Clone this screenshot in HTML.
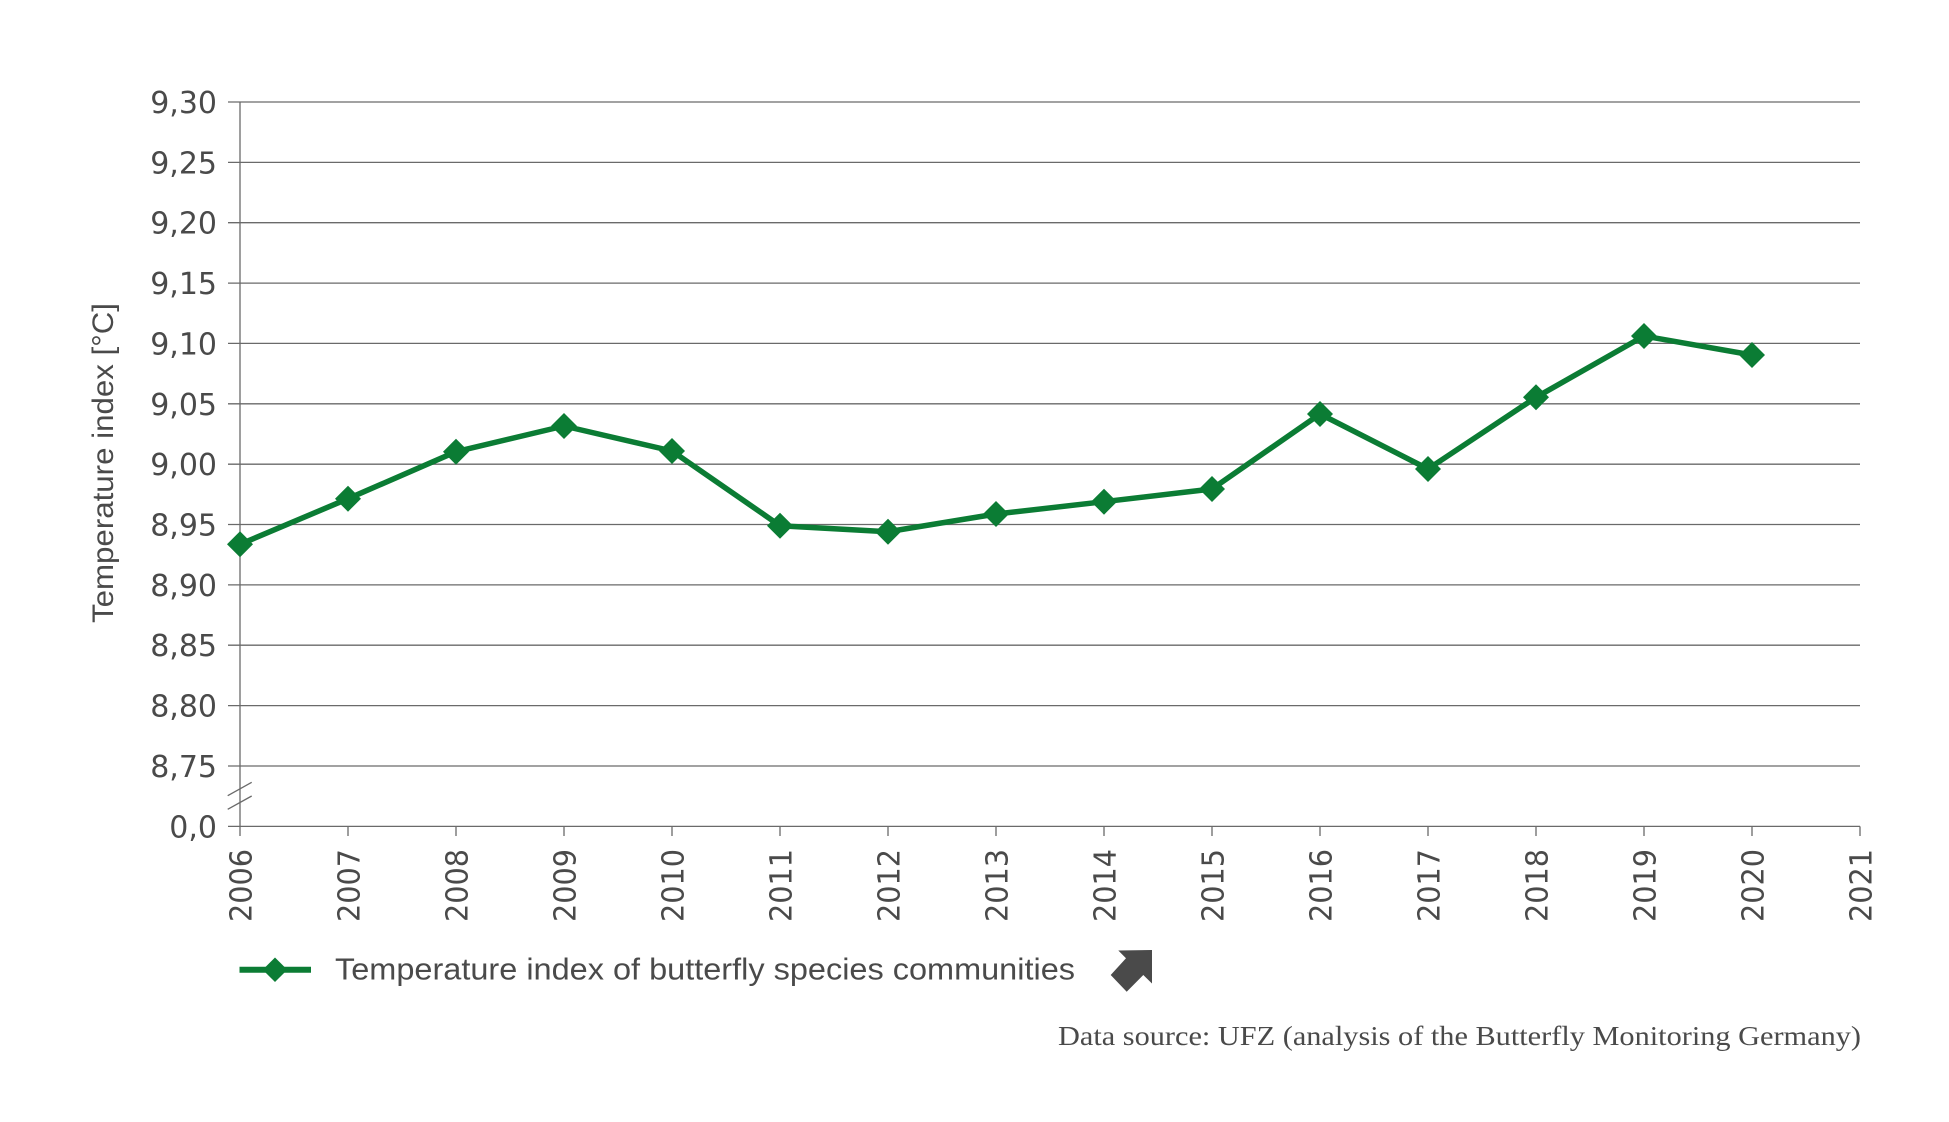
<!DOCTYPE html>
<html>
<head>
<meta charset="utf-8">
<style>
html,body{margin:0;padding:0;background:#fff;}
svg{display:block;}
</style>
</head>
<body>
<svg width="1949" height="1122" viewBox="0 0 1949 1122" xmlns="http://www.w3.org/2000/svg">
<rect width="1949" height="1122" fill="#fff"/>
<g stroke="#6a6a6a" stroke-width="1.3" fill="none">
  <line x1="228" y1="102" x2="1860" y2="102"/>
  <line x1="228" y1="162.4" x2="1860" y2="162.4"/>
  <line x1="228" y1="222.7" x2="1860" y2="222.7"/>
  <line x1="228" y1="283.1" x2="1860" y2="283.1"/>
  <line x1="228" y1="343.4" x2="1860" y2="343.4"/>
  <line x1="228" y1="403.8" x2="1860" y2="403.8"/>
  <line x1="228" y1="464.2" x2="1860" y2="464.2"/>
  <line x1="228" y1="524.5" x2="1860" y2="524.5"/>
  <line x1="228" y1="584.9" x2="1860" y2="584.9"/>
  <line x1="228" y1="645.2" x2="1860" y2="645.2"/>
  <line x1="228" y1="705.6" x2="1860" y2="705.6"/>
  <line x1="228" y1="766" x2="1860" y2="766"/>
  <line x1="228" y1="826.4" x2="1860" y2="826.4"/>
  <line x1="240" y1="102" x2="240" y2="836"/>
  <line x1="227.7" y1="795.7" x2="251.7" y2="782.3"/>
  <line x1="227.7" y1="809.3" x2="251.7" y2="796"/>
  <line x1="348" y1="826.4" x2="348" y2="836"/>
  <line x1="456" y1="826.4" x2="456" y2="836"/>
  <line x1="564" y1="826.4" x2="564" y2="836"/>
  <line x1="672" y1="826.4" x2="672" y2="836"/>
  <line x1="780" y1="826.4" x2="780" y2="836"/>
  <line x1="888" y1="826.4" x2="888" y2="836"/>
  <line x1="996" y1="826.4" x2="996" y2="836"/>
  <line x1="1104" y1="826.4" x2="1104" y2="836"/>
  <line x1="1212" y1="826.4" x2="1212" y2="836"/>
  <line x1="1320" y1="826.4" x2="1320" y2="836"/>
  <line x1="1428" y1="826.4" x2="1428" y2="836"/>
  <line x1="1536" y1="826.4" x2="1536" y2="836"/>
  <line x1="1644" y1="826.4" x2="1644" y2="836"/>
  <line x1="1752" y1="826.4" x2="1752" y2="836"/>
  <line x1="1860" y1="826.4" x2="1860" y2="836"/>
</g>
<g font-family="DejaVu Sans, sans-serif" font-size="30" fill="#4a4a4a" text-anchor="end">
  <text x="217" y="113">9,30</text>
  <text x="217" y="173.4">9,25</text>
  <text x="217" y="233.7">9,20</text>
  <text x="217" y="294.1">9,15</text>
  <text x="217" y="354.4">9,10</text>
  <text x="217" y="414.8">9,05</text>
  <text x="217" y="475.2">9,00</text>
  <text x="217" y="535.5">8,95</text>
  <text x="217" y="595.9">8,90</text>
  <text x="217" y="656.2">8,85</text>
  <text x="217" y="716.6">8,80</text>
  <text x="217" y="777">8,75</text>
  <text x="217" y="837.4">0,0</text>
</g>
<g font-family="DejaVu Sans, sans-serif" font-size="30" fill="#4a4a4a" text-anchor="start">
  <text transform="translate(251.5,922) rotate(-90)" textLength="73" lengthAdjust="spacingAndGlyphs">2006</text>
  <text transform="translate(359.5,922) rotate(-90)" textLength="73" lengthAdjust="spacingAndGlyphs">2007</text>
  <text transform="translate(467.5,922) rotate(-90)" textLength="73" lengthAdjust="spacingAndGlyphs">2008</text>
  <text transform="translate(575.5,922) rotate(-90)" textLength="73" lengthAdjust="spacingAndGlyphs">2009</text>
  <text transform="translate(683.5,922) rotate(-90)" textLength="73" lengthAdjust="spacingAndGlyphs">2010</text>
  <text transform="translate(791.5,922) rotate(-90)" textLength="73" lengthAdjust="spacingAndGlyphs">2011</text>
  <text transform="translate(899.5,922) rotate(-90)" textLength="73" lengthAdjust="spacingAndGlyphs">2012</text>
  <text transform="translate(1007.5,922) rotate(-90)" textLength="73" lengthAdjust="spacingAndGlyphs">2013</text>
  <text transform="translate(1115.5,922) rotate(-90)" textLength="73" lengthAdjust="spacingAndGlyphs">2014</text>
  <text transform="translate(1223.5,922) rotate(-90)" textLength="73" lengthAdjust="spacingAndGlyphs">2015</text>
  <text transform="translate(1331.5,922) rotate(-90)" textLength="73" lengthAdjust="spacingAndGlyphs">2016</text>
  <text transform="translate(1439.5,922) rotate(-90)" textLength="73" lengthAdjust="spacingAndGlyphs">2017</text>
  <text transform="translate(1547.5,922) rotate(-90)" textLength="73" lengthAdjust="spacingAndGlyphs">2018</text>
  <text transform="translate(1655.5,922) rotate(-90)" textLength="73" lengthAdjust="spacingAndGlyphs">2019</text>
  <text transform="translate(1763.5,922) rotate(-90)" textLength="73" lengthAdjust="spacingAndGlyphs">2020</text>
  <text transform="translate(1871.5,922) rotate(-90)" textLength="73" lengthAdjust="spacingAndGlyphs">2021</text>
</g>
<text transform="translate(113,623) rotate(-90)" font-family="Liberation Sans, sans-serif" font-size="30" fill="#4a4a4a" textLength="320" lengthAdjust="spacingAndGlyphs">Temperature index [°C]</text>
<polyline fill="none" stroke="#0b7c34" stroke-width="5.5" stroke-linejoin="round" points="240,544.3 348,498.7 456,451.7 564,426 672,451 780,525.7 888,531.7 996,514 1104,501.7 1212,489 1320,414 1428,469 1536,397.3 1644,336 1752,355"/>
<g fill="#0b7c34">
  <path d="M240,531.3 L253,544.3 L240,557.3 L227,544.3Z"/>
  <path d="M348,485.7 L361,498.7 L348,511.7 L335,498.7Z"/>
  <path d="M456,438.7 L469,451.7 L456,464.7 L443,451.7Z"/>
  <path d="M564,413 L577,426 L564,439 L551,426Z"/>
  <path d="M672,438 L685,451 L672,464 L659,451Z"/>
  <path d="M780,512.7 L793,525.7 L780,538.7 L767,525.7Z"/>
  <path d="M888,518.7 L901,531.7 L888,544.7 L875,531.7Z"/>
  <path d="M996,501 L1009,514 L996,527 L983,514Z"/>
  <path d="M1104,488.7 L1117,501.7 L1104,514.7 L1091,501.7Z"/>
  <path d="M1212,476 L1225,489 L1212,502 L1199,489Z"/>
  <path d="M1320,401 L1333,414 L1320,427 L1307,414Z"/>
  <path d="M1428,456 L1441,469 L1428,482 L1415,469Z"/>
  <path d="M1536,384.3 L1549,397.3 L1536,410.3 L1523,397.3Z"/>
  <path d="M1644,323 L1657,336 L1644,349 L1631,336Z"/>
  <path d="M1752,342 L1765,355 L1752,368 L1739,355Z"/>
</g>
<line x1="239.5" y1="969.7" x2="311" y2="969.7" stroke="#0b7c34" stroke-width="6"/>
<path d="M275,957.5 L287.3,969.7 L275,982 L262.7,969.7Z" fill="#0b7c34"/>
<text x="335" y="979.5" font-family="Liberation Sans, sans-serif" font-size="31" fill="#4a4a4a" textLength="740" lengthAdjust="spacingAndGlyphs">Temperature index of butterfly species communities</text>
<polygon points="1118.3,950.5 1152,950 1152,983.5 1143.3,975 1126.7,991.7 1110.7,975 1126,958.3" fill="#4a4a4a"/>
<text x="1058" y="1045" font-family="Liberation Serif, serif" font-size="27" fill="#4a4a4a" textLength="803" lengthAdjust="spacingAndGlyphs">Data source: UFZ (analysis of the Butterfly Monitoring Germany)</text>
</svg>
</body>
</html>
